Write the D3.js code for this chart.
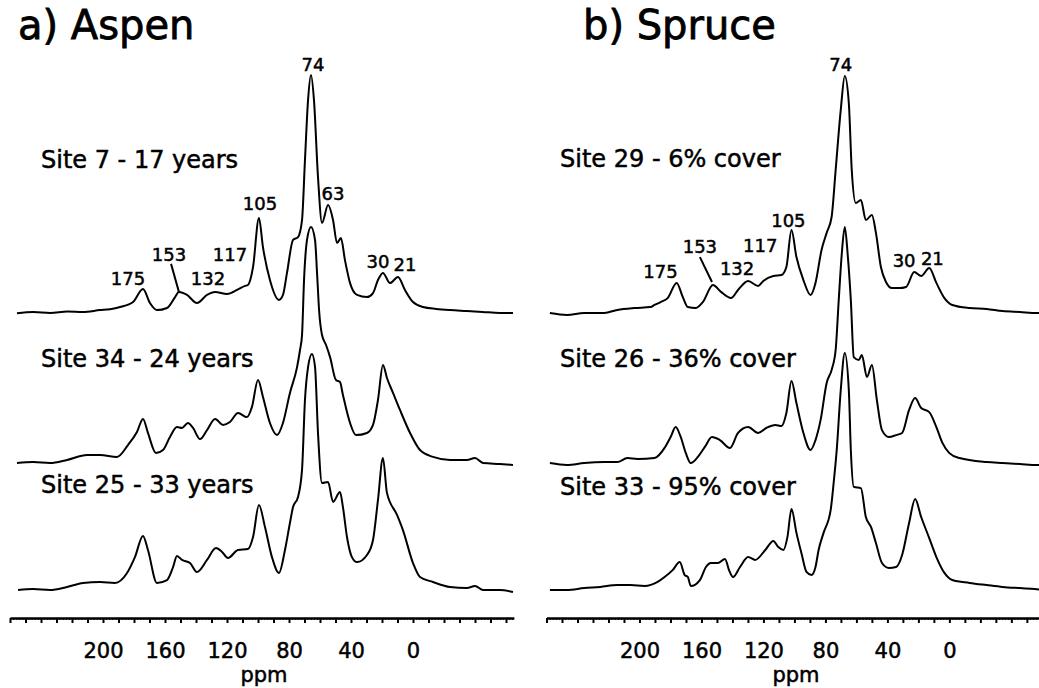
<!DOCTYPE html>
<html lang="en">
<head>
<meta charset="UTF-8">
<title>nmr-spectra</title>
<script src="https://cdn.jsdelivr.net/npm/d3@7"></script>
<style>
  body { margin: 0; background: #fff; }
  svg { display: block; font-family: "DejaVu Sans", Verdana, sans-serif; }
  svg text { fill: #000; stroke: #000; stroke-width: 0.5px; }
  .spec { fill: none; stroke: #000; stroke-width: 2; stroke-linejoin: round; }
  .axis path, .axis line { stroke: #000; }
  .axis path { stroke-width: 2.2; }
</style>
</head>
<body>
<svg id="chart"></svg>
<script>
// spectra: [ppm, relative intensity (main peak = 100)]
var aspen7 = [[255.5,-0.5],[245,0],[234,-0.4],[223,0.2],[213,0],[202,0.8],[195.5,1.2],[189,2.1],[180.6,4.2],[174.2,9.7],[169.7,3.8],[165.2,0.8],[158.7,1.7],[153.5,6.3],[151,8.4],[145.8,7.2],[139.4,3.8],[132.9,7.2],[127.7,8.4],[120,7.6],[113.5,9.3],[108.4,11.0],[106.5,11.4],[103.2,19.0],[99.4,39.7],[96.8,27.4],[92.3,13.5],[86.5,5.1],[83.9,7.2],[81.3,16.5],[77.4,30.4],[74.2,31.6],[71.6,38.8],[69.7,64.1],[67.7,89.5],[65.8,100],[63.9,89.5],[61.3,57.0],[58.7,37.6],[54.8,45.1],[51.6,38.8],[49,29.1],[46.5,31.2],[43.9,21.9],[40.6,12.2],[36.1,7.2],[29.7,6.3],[25.8,8.0],[22.6,13.5],[19.4,16.5],[14.8,12.2],[9.7,14.8],[5.2,9.3],[0,4.2],[-6.5,2.1],[-15,1.3],[-23.9,0.8],[-34.8,0.4],[-45,0],[-56.1,-0.4],[-64.5,-0.4]];
var aspen34 = [[255.5,0.4],[245.2,0.8],[234.2,0.4],[223.2,1.7],[210.3,3.8],[201.9,3.8],[191,3.0],[183.9,8.0],[178.1,13.5],[174.2,19.0],[171,13.1],[165.8,4.6],[161.3,5.9],[156.8,11.4],[152.3,15.6],[149,15.2],[145.2,17.3],[141.9,15.2],[137.4,10.5],[132.9,14.3],[127.7,19.0],[122.6,16.5],[118.1,17.7],[112.9,21.5],[107.1,19.8],[103.9,24.1],[100,35.4],[96.8,28.3],[92.3,17.3],[87.7,12.2],[83.9,17.3],[79.4,30.0],[74.8,40.9],[72.9,48.1],[71.6,54.4],[70.3,77.6],[68.4,94.5],[65.8,100],[63.2,94.5],[61.9,80.6],[60.6,65],[58.7,54.4],[56.1,50.2],[53.5,45.1],[49.7,35.4],[47.1,34.6],[45.2,29.1],[40.6,17.3],[36.8,12.2],[29.7,13.1],[25.8,16.5],[22.6,27.0],[19.4,41.8],[16.8,36.3],[12.9,30.0],[8.4,22.8],[1.9,13.1],[-4.5,5.9],[-12.9,3.0],[-23.9,1.7],[-34.8,1.7],[-40,2.5],[-45.2,0.4],[-56.1,0],[-64.5,-0.4]];
var aspen25 = [[254.8,0.4],[245.2,0.8],[234.2,0.4],[223.2,1.7],[212.9,3.4],[201.9,3.8],[192.3,3.4],[184.5,7.6],[179.4,14.3],[174.2,23.2],[171,17.3],[165.2,3.4],[158.7,4.6],[154.8,10.1],[152.3,14.8],[149,13.1],[143.9,11.8],[139.4,8.0],[132.9,13.1],[127.1,18.1],[123.2,16.5],[119.4,13.9],[112.9,17.3],[106.5,17.7],[103.2,22.8],[99.4,36.3],[95.5,27.0],[91,14.3],[86.5,7.6],[82.6,17.3],[79.4,28.7],[77.4,35.4],[74.2,39.7],[71.6,51.1],[69.7,80.6],[67.7,94.5],[65.2,100],[63.2,94.5],[61.3,66.7],[58.7,45.6],[54.8,46.0],[51.6,37.6],[47.1,41.8],[45.2,35.4],[42.6,22.8],[39.4,14.3],[36.1,12.2],[29.7,15.2],[25.8,21.5],[22.6,38.4],[19.4,56.1],[16.8,41.4],[10.3,32.1],[6.5,25.7],[0,11.8],[-4.5,5.9],[-12.9,3.8],[-23.9,1.7],[-34.8,1.3],[-40,2.1],[-45.2,0.4],[-56.1,0.4],[-64.5,-0.4]];
var spruce29 = [[257.8,0],[246.8,-0.8],[235.7,0],[222.7,0],[214.3,1.3],[203.2,2.1],[192.9,2.5],[190.3,3.4],[186.4,4.6],[181.8,6.3],[176,12.7],[172.1,6.8],[168.8,2.5],[163.6,2.1],[159.1,4.6],[152.6,11.8],[147.4,8.9],[140.9,6.3],[136.4,9.7],[129.9,13.5],[123.4,11.4],[120.1,13.5],[113.6,15.6],[108.4,16.0],[105.2,19.4],[101.9,35.0],[98.7,23.6],[94.2,13.9],[89.6,7.6],[86.4,12.7],[82.5,26.6],[79.2,33.8],[76,40.5],[73.4,60.3],[70.1,85.7],[67.5,100],[64.9,88.6],[63,60.3],[60.4,46.4],[57.1,47.7],[53.9,39.2],[50,41.4],[47.4,33.8],[44.2,19.4],[40.9,13.1],[37,10.5],[32.5,10.5],[27.9,11.0],[22.7,17.3],[18.2,15.6],[13,19.0],[8.4,12.7],[3.2,6.3],[-1.9,3.4],[-13,2.1],[-24,1.7],[-34.4,0.8],[-45.5,0.4],[-56.5,0],[-61.7,0]];
var spruce26 = [[257.8,0.4],[246.8,-0.4],[235.7,0.4],[222.7,0.8],[214.3,0.8],[207.8,2.5],[201.3,2.1],[190.3,2.5],[183.8,6.8],[179.9,11.4],[176.6,15.6],[173.4,11.4],[170.1,4.6],[166.9,0.4],[162.3,3.0],[157.8,7.2],[153.2,11.4],[148.1,10.1],[141.6,6.8],[136.4,13.1],[129.9,15.6],[123.4,13.1],[118.2,15.2],[112.3,16.5],[108.4,16.0],[105.2,21.5],[101.9,35.0],[98.7,25.7],[94.2,13.1],[89.6,5.9],[86.4,10.1],[83.1,18.6],[79.2,34.2],[76,39.7],[73.4,48.1],[71.4,69.2],[69.5,88.2],[67.5,100],[65.6,88.2],[63.6,69.2],[61.7,45.1],[58.4,43.9],[56.5,46.0],[53.2,36.7],[50,41.8],[46.8,27.0],[43.5,14.3],[39,11.4],[34.4,12.2],[30.5,13.1],[26,22.8],[22.1,27.8],[18.2,23.6],[13,21.9],[8.4,15.6],[4.5,8.9],[0,4.6],[-6.5,2.5],[-24,0.8],[-34.4,0.4],[-45.5,0],[-56.5,-0.4],[-61.7,-0.4]];
var spruce33 = [[257.8,0],[246.8,0],[235.7,0.8],[225.3,1.3],[214.3,2.1],[205.8,2.1],[196.8,1.7],[188.3,3.4],[183.8,5.5],[178.6,8.4],[174,11.8],[170.8,6.3],[168.8,5.5],[166.9,1.7],[161,4.2],[157.1,9.7],[153.9,11.4],[149.4,11.4],[144.8,13.1],[142.2,8.4],[139.6,5.5],[135.1,9.7],[129.9,13.9],[125.3,12.7],[118.8,16.9],[113.6,20.7],[110.4,18.1],[107.1,16.9],[104.5,22.4],[101.9,34.2],[98.7,24.1],[95.5,15.6],[92.2,7.6],[89,6.3],[86.4,9.7],[84.4,16.9],[81.2,24.1],[76.6,33.8],[74.7,45.1],[72.7,59.1],[70.1,84.4],[67.5,100],[64.9,84.4],[63.6,59.1],[61.7,43.5],[57.1,43.0],[53.9,30.8],[50.6,26.6],[47.4,19.8],[43.5,11.4],[39,9.3],[34.4,9.7],[30.5,14.8],[26,28.3],[22.1,38.4],[18.2,30.8],[13,21.9],[8.4,13.9],[3.2,7.2],[-1.9,4.2],[-13,3.0],[-24,2.1],[-34.4,1.3],[-45.5,0.8],[-55.2,0.4],[-61.7,0]];

var aspenSites = ["Site 7 - 17 years", "Site 34 - 24 years", "Site 25 - 33 years"];
var spruceSites = ["Site 29 - 6% cover", "Site 26 - 36% cover", "Site 33 - 95% cover"];

// peak annotations on the top spectrum: [text, ppm, intensity]
var aspenPeaks = [["74",64.5,101.7],["63",51.6,47.3],["105",98.7,43.0],["117",118.1,21.5],["153",157.4,21.5],["132",132.3,11.4],["175",183.9,11.4],["30",22.6,18.6],["21",5.2,17.3]];
var sprucePeaks = [["74",70.1,102.1],["105",103.9,36.3],["117",122.1,25.7],["153",161,25.3],["132",137,16.0],["175",186.4,14.8],["30",29.2,19.4],["21",11.0,20.3]];
var aspenLeader = [[156.1,20.3],[151,8.4]];
var spruceLeader = [[161,23.6],[153.2,13.1]];

var tickLabels = [200, 160, 120, 80, 40, 0];

var width = 1039, height = 688;
var axisY = 618;

var panels = [
    {title: "a) Aspen", titleX: 18, range: [10, 513.75], spectra: [aspen7, aspen34, aspen25],
     offsets: [312, 464, 591], sites: aspenSites, siteX: 41, siteY: [168, 367, 493],
     peaks: aspenPeaks, leader: aspenLeader, ppmX: 264},
    {title: "b) Spruce", titleX: 583, range: [546.5, 1050.1], spectra: [spruce29, spruce26, spruce33],
     offsets: [313, 464, 590], sites: spruceSites, siteX: 560, siteY: [167, 367, 495],
     peaks: sprucePeaks, leader: spruceLeader, ppmX: 796}
];

var svg = d3.select('#chart')
    .attr('width', width)
    .attr('height', height);

// intensity -> pixels above the spectrum baseline
var y = d3.scaleLinear().domain([0, 100]).range([0, -237]);

panels.forEach(function (p) {
    var x = d3.scaleLinear().domain([260, -65]).range(p.range);

    var line = d3.line()
        .x(function (d) { return x(d[0]); })
        .y(function (d) { return y(d[1]); })
        .curve(d3.curveMonotoneX);

    // title
    svg.append('text')
        .attr('x', p.titleX)
        .attr('y', 39)
        .style('font-size', '40px')
        .style('stroke-width', '0.8px')
        .text(p.title);

    // spectra
    p.spectra.forEach(function (s, i) {
        var g = svg.append('g').attr('transform', 'translate(0,' + p.offsets[i] + ')');
        g.append('path').attr('class', 'spec').attr('d', line(s));
        if (i === 0) {
            g.selectAll('text.peak')
                .data(p.peaks)
                .enter()
                .append('text')
                .attr('class', 'peak')
                .attr('x', function (d) { return x(d[1]); })
                .attr('y', function (d) { return y(d[2]); })
                .attr('text-anchor', 'middle')
                .style('font-size', '18px')
                .text(function (d) { return d[0]; });
            g.append('line')
                .attr('x1', x(p.leader[0][0])).attr('y1', y(p.leader[0][1]))
                .attr('x2', x(p.leader[1][0])).attr('y2', y(p.leader[1][1]))
                .attr('stroke', '#000').attr('stroke-width', 2);
        }
    });

    // site labels
    svg.selectAll(null)
        .data(p.sites)
        .enter()
        .append('text')
        .attr('x', p.siteX)
        .attr('y', function (d, i) { return p.siteY[i]; })
        .style('font-size', '24px')
        .text(function (d) { return d; });

    // x axis: minor + major ticks
    svg.append('g')
        .attr('class', 'axis')
        .attr('transform', 'translate(0,' + axisY + ')')
        .call(d3.axisBottom(x).tickValues(d3.range(260, -65, -2)).tickSize(2).tickSizeOuter(0).tickFormat(''));

    var ax = svg.append('g')
        .attr('class', 'axis')
        .attr('transform', 'translate(0,' + axisY + ')')
        .call(d3.axisBottom(x).tickValues(d3.range(260, -65, -10)).tickSize(5).tickSizeOuter(0).tickPadding(20)
            .tickFormat(function (d) { return tickLabels.indexOf(d) >= 0 ? d : ''; }));
    ax.selectAll('line').attr('stroke-width', 2);
    ax.selectAll('text')
        .style('font-family', '"DejaVu Sans", Verdana, sans-serif')
        .style('font-size', '21px')
        .attr('fill', '#000');

    svg.append('text')
        .attr('x', p.ppmX)
        .attr('y', 682)
        .attr('text-anchor', 'middle')
        .style('font-size', '21px')
        .text('ppm');
});
</script>
</body>
</html>
